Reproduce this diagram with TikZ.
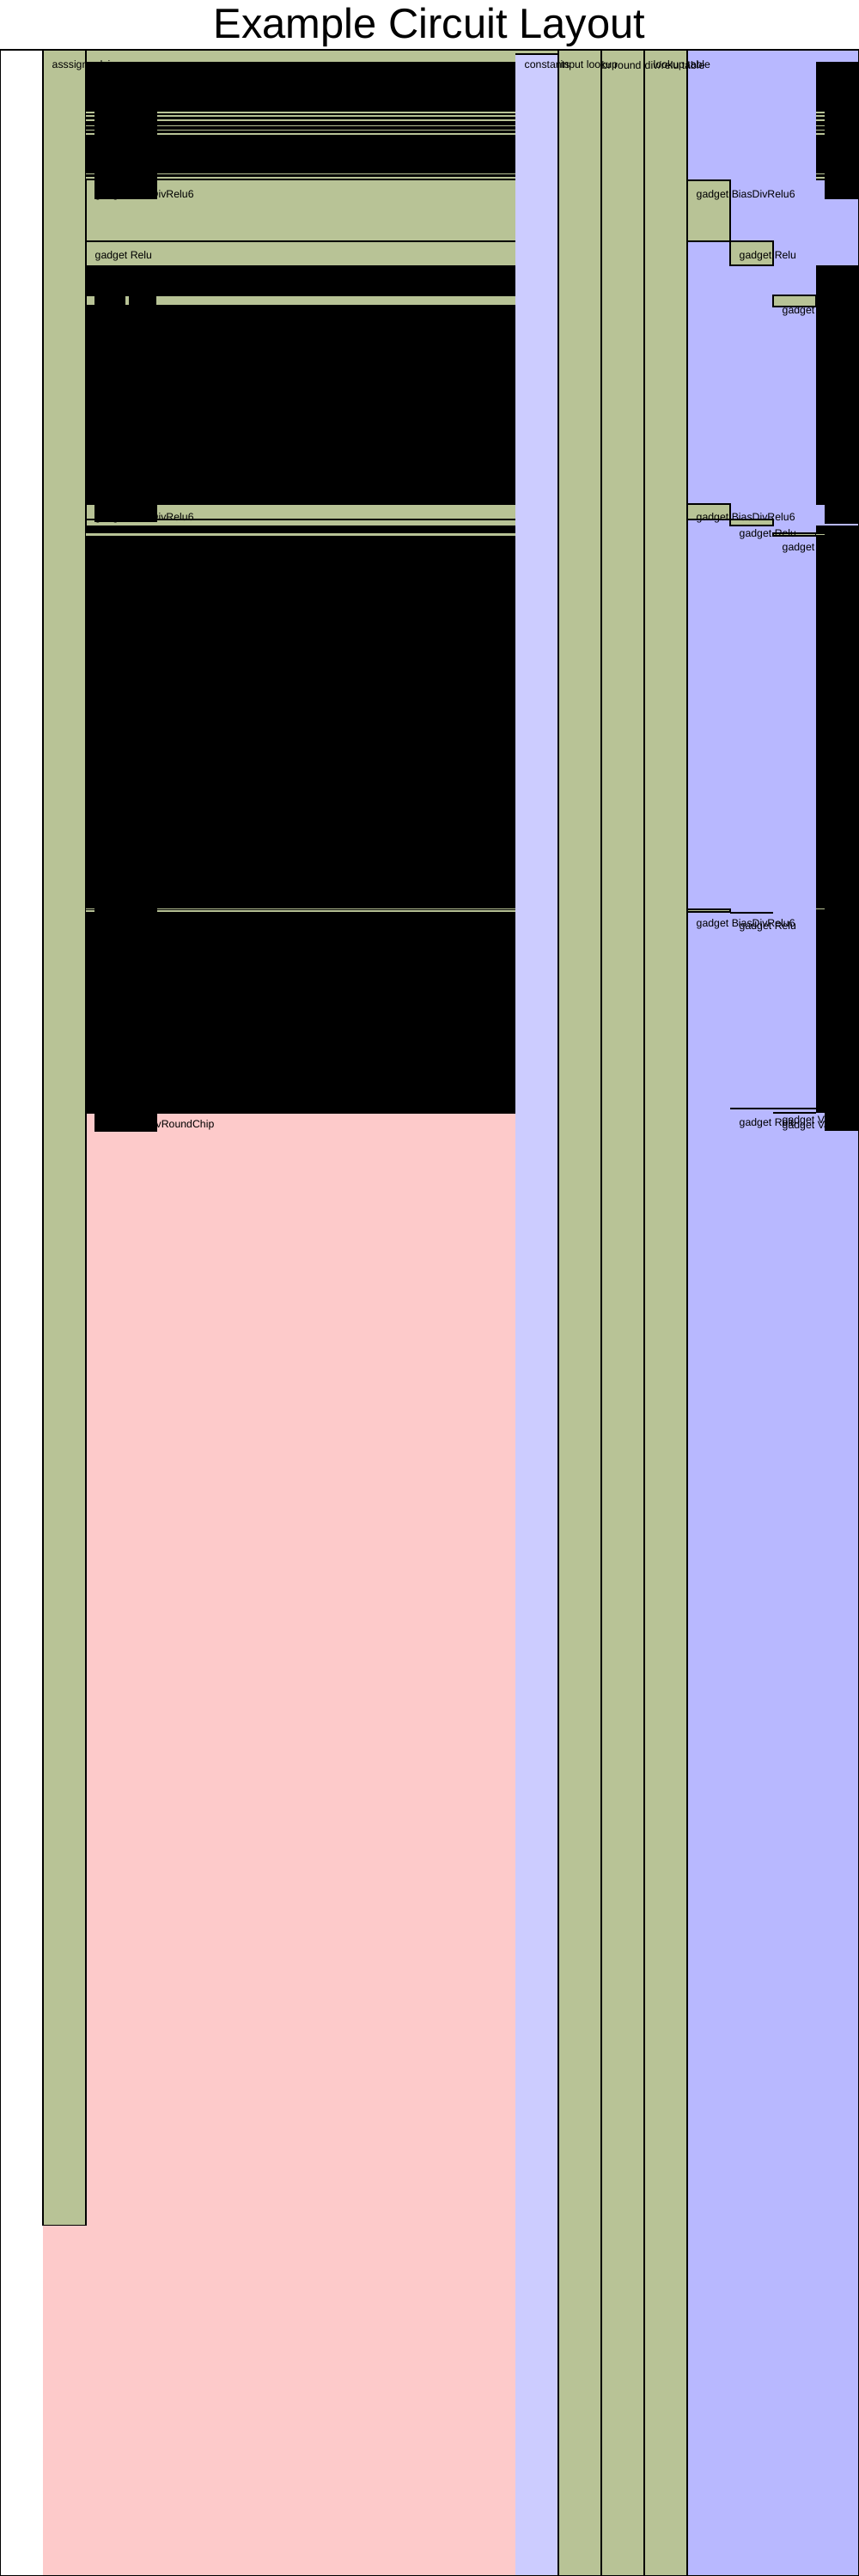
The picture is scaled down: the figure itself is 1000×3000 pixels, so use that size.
\documentclass[tikz,border=0pt]{standalone}
\usepackage{fontspec}
\setmainfont{Liberation Sans}
\definecolor{rgreen}{HTML}{B8C396}
\definecolor{advpink}{HTML}{FDCACA}
\definecolor{fixblue}{HTML}{CCCCFF}
\definecolor{selblue}{HTML}{B8B8FF}
\tikzset{
  lbl/.style={font=\fontsize{3.5}{4}\selectfont, anchor=west, inner sep=0pt},
  regionbox/.style={fill=rgreen, draw=black, line width=0.3pt},
  blk/.style={fill=black},
  gline/.style={draw=rgreen, line width=0.4pt},
  bline/.style={draw=black, line width=0.3pt}
}
\begin{document}
\begin{tikzpicture}[x=0.01cm,y=-0.01cm]
\useasboundingbox (0,0) rectangle (1000,3000);
\fill[white] (0,0) rectangle (1000,3000);
\node[font=\fontsize{13.9}{16}\selectfont, inner sep=0pt] (title) at (500,32) {Example Circuit Layout};
% column backgrounds
\fill[advpink] (50,58) rectangle (600,3000);
\fill[fixblue] (600,58) rectangle (650,3000);
\fill[selblue] (800,58) rectangle (1000,3000);
% regions
\fill[rgreen] (50,58) rectangle (650,63);
\draw[bline] (600,63) -- (650,63);
\fill[rgreen] (100,58) rectangle (600,1297);
\draw[regionbox] (50,58) rectangle (100,2591);
\draw[regionbox] (650,58) rectangle (700,3000);
\draw[regionbox] (700,58) rectangle (750,3000);
\draw[regionbox] (750,58) rectangle (800,3000);
% right region boxes
\draw[regionbox] (800,210) rectangle (850,281);
\draw[regionbox] (850,281) rectangle (900,309);
\draw[regionbox] (900,344) rectangle (950,357);
\draw[regionbox] (800,587) rectangle (850,605);
\draw[regionbox] (850,605) rectangle (900,612);
\draw[regionbox] (900,621) rectangle (950,624);
\draw[regionbox] (800,1059) rectangle (850,1062);
\draw[bline, line width=0.6pt] (850,1063) -- (900,1063);
\draw[bline] (850,1291) -- (950,1291);
\draw[bline] (900,1296) -- (950,1296);
% main region lines
\draw[bline] (100,281) -- (600,281);
\draw[bline] (100,605) -- (600,605);
% headers
\node[lbl] (hassign) at (60,76) {asssign advice};
\node[lbl] (hconst) at (610,76) {constants};
\node[lbl] (hinput) at (652,76) {input lookup};
\node[lbl] (hround) at (700,76) {br round};
\node[lbl] (hdiv) at (750,76) {div/relu table};
\node[lbl] (hsel) at (760,76) {lookup table};
% right labels (drawn before black)
\node[lbl] (r1) at (810,227) {gadget BiasDivRelu6};
\node[lbl] (r2) at (860,298) {gadget Relu};
\node[lbl] (r3) at (910,362) {gadget VarDiv};
\node[lbl] (r4) at (810,603) {gadget BiasDivRelu6};
\node[lbl] (r5) at (860,622) {gadget Relu};
\node[lbl] (r6) at (910,638) {gadget VarDiv};
\node[lbl] (r7) at (810,1076) {gadget BiasDivRelu6};
\node[lbl] (r8) at (860,1079) {gadget Relu};
\node[lbl] (r9) at (860,1308) {gadget Relu};
\node[lbl] (r10) at (910,1305) {gadget VarDiv};
\node[lbl] (r11) at (910,1311) {gadget VarDiv};
% main black blocks
\fill[blk] (100,72) rectangle (600,210);
\fill[blk] (100,309) rectangle (600,345);
\fill[blk] (100,355) rectangle (600,588);
\fill[blk] (100,612) rectangle (600,1297);
% right black blocks
\fill[blk] (950,72) rectangle (1000,210);
\fill[blk] (950,309) rectangle (1000,588);
\fill[blk] (950,612) rectangle (1000,1296);
% green lines inside black
\foreach \yy in {131,135,140,146.7,151.7,156,202.5,207} {
  \draw[gline] (100,\yy) -- (110,\yy);
  \draw[gline] (183,\yy) -- (600,\yy);
  \draw[gline] (950,\yy) -- (960,\yy);
}
\draw[gline, line width=0.6pt] (100,622.5) -- (600,622.5);
\draw[gline] (950,622.5) -- (960,622.5);
\draw[gline] (100,1058.5) -- (110,1058.5);
\draw[gline] (183,1058.5) -- (600,1058.5);
\draw[gline] (100,1061) -- (110,1061);
\draw[gline] (183,1061) -- (600,1061);
\draw[gline] (950,1058.5) -- (960,1058.5);
% stacked-label blobs
\fill[blk] (110,201) rectangle (183,232);
\fill[blk] (110,345) rectangle (146,357);
\fill[blk] (150,345) rectangle (182,357);
\fill[blk] (110,588) rectangle (183,608);
\fill[blk] (110,1297) rectangle (183,1318);
\fill[blk] (960,210) rectangle (1000,232);
\fill[blk] (960,588) rectangle (1000,610);
\fill[blk] (960,1296) rectangle (1000,1317);
% main labels
\node[lbl] (m1) at (110,227) {gadget BiasDivRelu6};
\node[lbl] (m2) at (110,298) {gadget Relu};
\node[lbl] (m3) at (110,603) {gadget BiasDivRelu6};
\node[lbl] (m4) at (110,1310) {gadget VarDivRoundChip};
% frame
\draw[black, line width=0.6pt] (0,58) rectangle (1000,3000);
\end{tikzpicture}
\end{document}
